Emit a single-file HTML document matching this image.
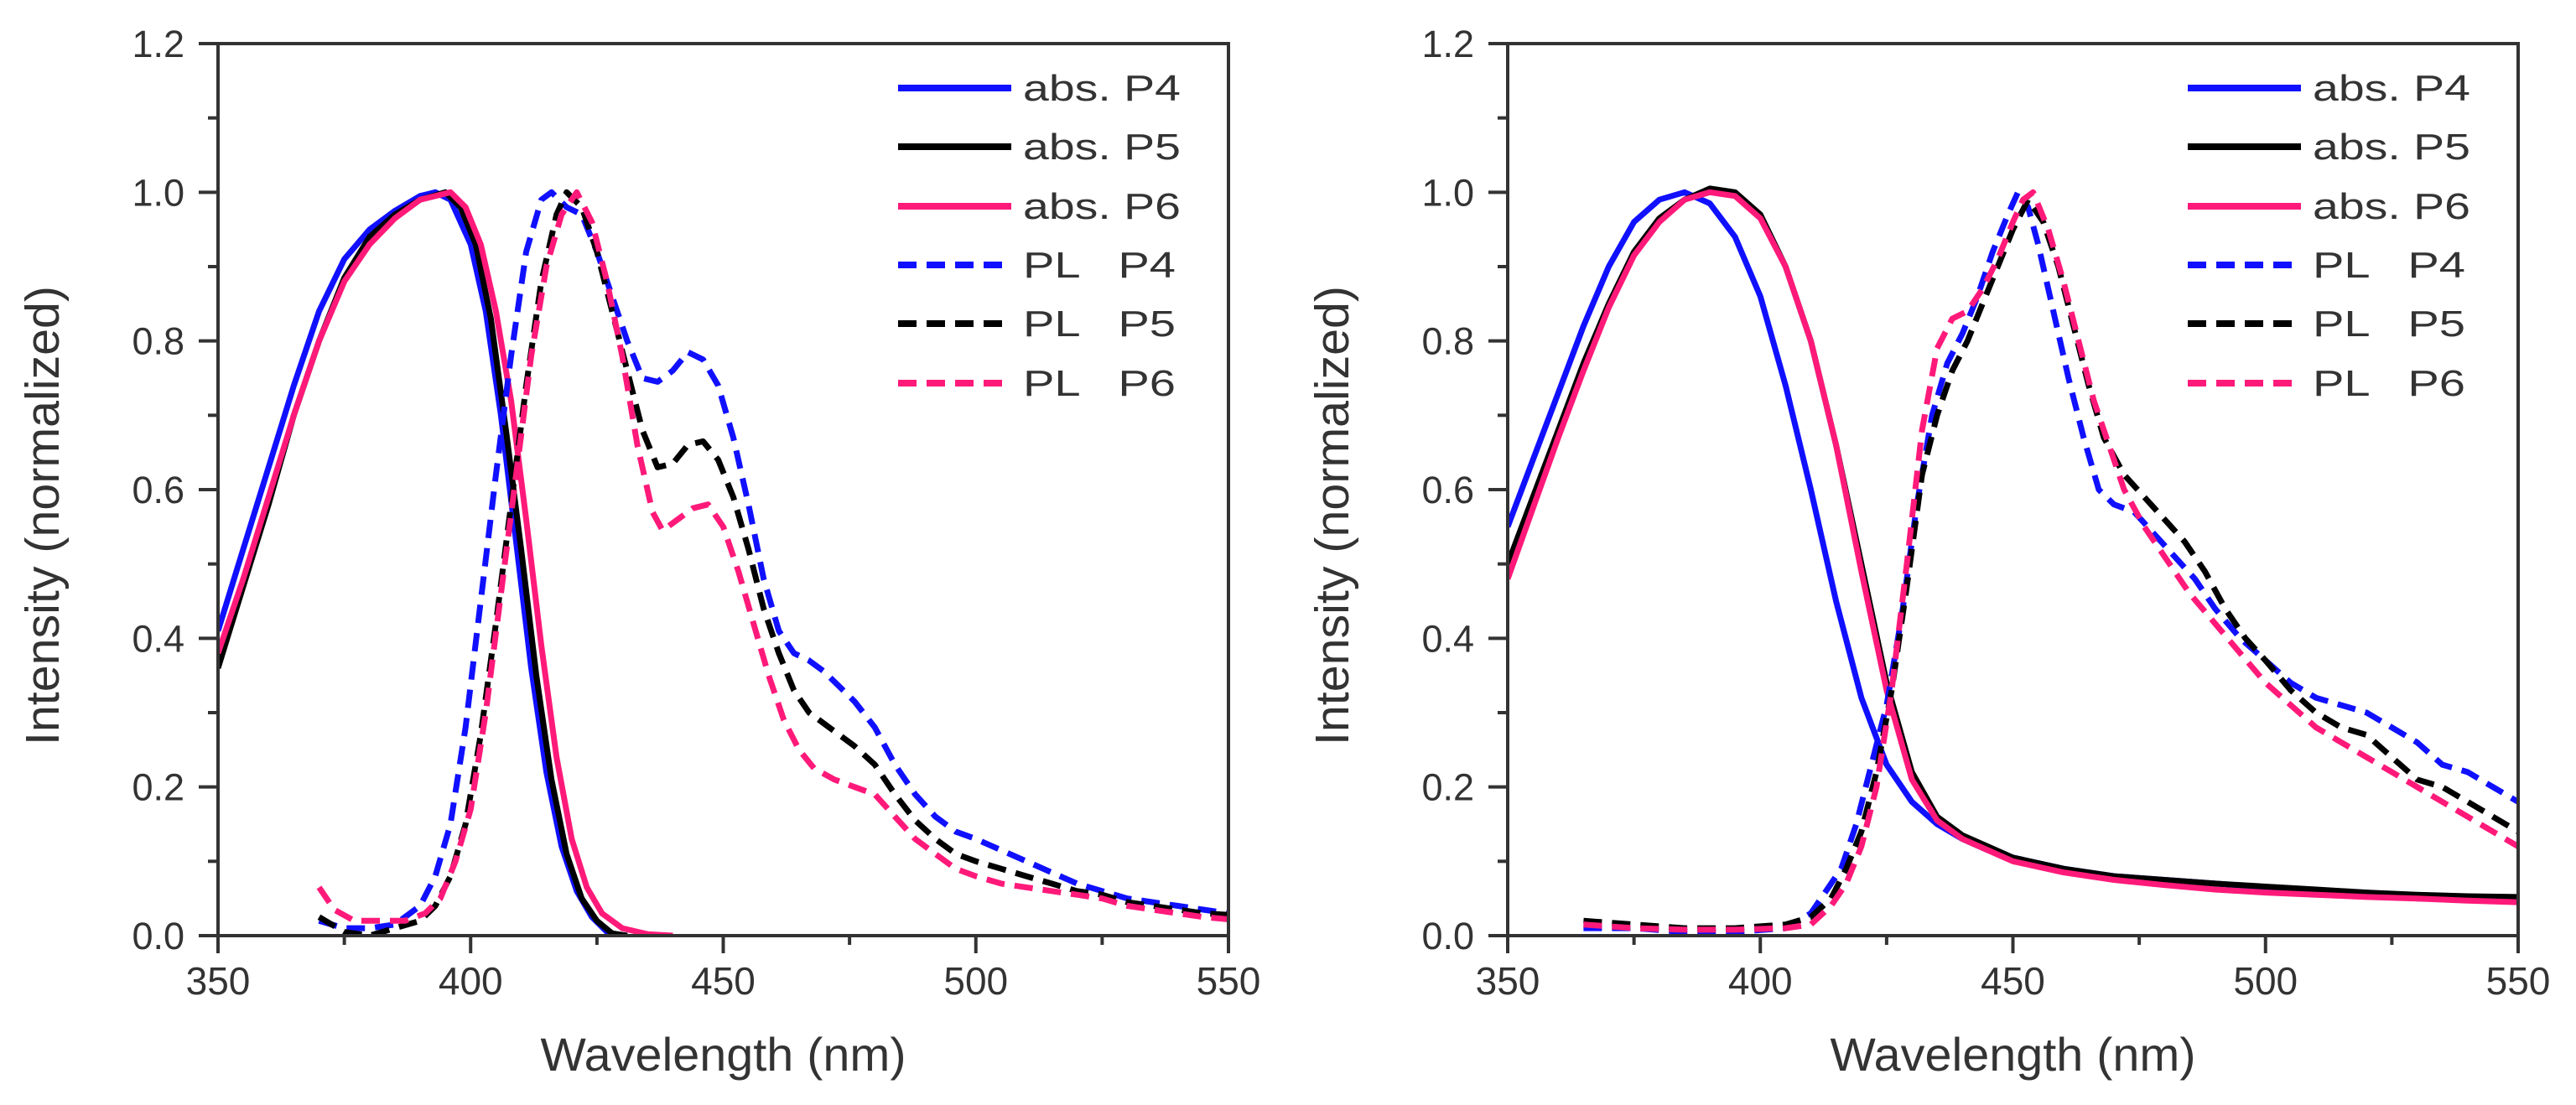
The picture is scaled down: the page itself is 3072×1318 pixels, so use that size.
<!DOCTYPE html>
<html><head><meta charset="utf-8"><style>
html,body{margin:0;padding:0;background:#fff}
svg{display:block}
text{font-family:"Liberation Sans",Arial,sans-serif;fill:#333}
</style></head><body>
<svg id="fig" width="3072" height="1318" viewBox="0 0 3072 1318" xmlns="http://www.w3.org/2000/svg"></svg>
<script>
// ---- Left panel data ----
const L_absP4_x=[350,355,360,365,370,375,380,385,390,393,396,400,403,406,409,412,415,418,421,424,427,430];
const L_absP4_y=[.41,.52,.63,.74,.84,.91,.95,.975,.995,1.0,.99,.93,.84,.7,.53,.36,.22,.12,.06,.025,.005,0];
const L_absP5_x=[350,355,360,365,370,375,380,385,390,395,398,401,404,407,410,413,416,419,422,425,428,431];
const L_absP5_y=[.36,.47,.58,.70,.80,.885,.94,.97,.99,1.0,.98,.93,.83,.68,.52,.35,.21,.11,.05,.02,.003,0];
const L_absP6_x=[350,355,360,365,370,375,380,385,390,396,399,402,405,408,411,414,417,420,423,426,430,435,440];
const L_absP6_y=[.38,.48,.59,.70,.80,.88,.93,.965,.99,1.0,.98,.93,.84,.72,.56,.39,.24,.13,.065,.03,.01,.002,0];
const L_plP4_x=[370,375,380,385,390,393,396,399,402,405,408,411,414,416,419,422,425,428,431,434,437,440,443,446,449,452,455,458,461,464,467,470,473,476,480,484,488,492,496,500,505,510,515,520,525,530,535,540,545,550];
const L_plP4_y=[.02,.01,.01,.015,.04,.08,.15,.28,.45,.62,.78,.92,.99,1.0,.98,.97,.92,.86,.8,.75,.745,.76,.785,.775,.74,.67,.58,.48,.41,.38,.37,.355,.335,.315,.28,.23,.19,.16,.14,.13,.115,.1,.085,.07,.06,.05,.045,.04,.035,.03];
const L_plP5_x=[370,375,380,385,390,393,396,399,402,405,408,411,414,417,419,422,425,428,431,434,437,440,443,446,449,452,455,458,461,464,467,470,473,476,480,484,488,492,496,500,505,510,515,520,525,530,535,540,545,550];
const L_plP5_y=[.025,.005,0,.01,.02,.04,.08,.15,.27,.42,.58,.74,.88,.97,1.0,.98,.92,.84,.76,.68,.63,.635,.66,.665,.64,.59,.52,.44,.38,.33,.3,.285,.27,.255,.23,.19,.155,.13,.11,.1,.09,.08,.07,.06,.055,.045,.04,.035,.03,.028];
const L_plP6_x=[370,373,377,382,387,391,394,397,400,403,406,409,412,415,418,421,424,427,430,433,436,438,441,444,447,450,453,456,459,462,465,468,472,476,480,484,488,492,496,500,505,510,515,520,525,530,535,540,545,550];
const L_plP6_y=[.065,.035,.02,.02,.02,.03,.05,.1,.17,.3,.46,.62,.78,.9,.97,1.0,.96,.88,.78,.66,.57,.545,.56,.575,.58,.55,.49,.42,.35,.29,.25,.225,.21,.2,.19,.16,.13,.11,.09,.08,.07,.065,.06,.055,.05,.04,.035,.03,.025,.022];
// ---- Right panel data ----
const R_absP4_x=[350,355,360,365,370,375,380,385,390,395,400,405,410,415,420,425,430,435,440,445,450,460,470,480,490,500,510,520,530,540,550];
const R_absP4_y=[.55,.64,.73,.82,.9,.96,.99,1.0,.985,.94,.86,.74,.6,.45,.32,.23,.18,.15,.13,.115,.105,.09,.08,.075,.07,.065,.06,.058,.05,.05,.05];
const R_absP5_x=[350,355,360,365,370,375,380,385,390,395,400,405,410,415,420,425,430,435,440,445,450,460,470,480,490,500,510,520,530,540,550];
const R_absP5_y=[.5,.59,.68,.77,.85,.92,.965,.99,1.005,1.0,.97,.9,.8,.66,.5,.34,.22,.16,.135,.12,.105,.09,.08,.075,.07,.066,.062,.058,.055,.053,.052];
const R_absP6_x=[350,355,360,365,370,375,380,385,390,395,400,405,410,415,420,425,430,435,440,445,450,460,470,480,490,500,510,520,530,540,550];
const R_absP6_y=[.48,.575,.67,.76,.845,.915,.96,.99,1.0,.995,.965,.9,.8,.66,.49,.33,.21,.155,.13,.115,.1,.085,.075,.068,.062,.058,.055,.052,.05,.047,.045];
const R_plP4_x=[365,375,385,395,405,410,413,416,419,422,425,428,431,434,437,440,443,446,449,451,453,455,458,461,464,467,470,474,478,482,486,490,495,500,505,510,515,520,525,530,535,540,545,550];
const R_plP4_y=[.01,.01,.005,.005,.01,.03,.06,.09,.15,.23,.31,.43,.58,.7,.77,.81,.86,.92,.97,1.0,.98,.93,.84,.75,.67,.6,.58,.57,.54,.51,.48,.44,.4,.37,.34,.32,.31,.3,.28,.26,.23,.22,.2,.18];
const R_plP5_x=[365,375,385,395,405,410,414,417,420,423,426,429,432,435,438,441,444,447,450,453,456,459,462,465,468,472,476,480,484,488,492,496,500,505,510,515,520,525,530,535,540,545,550];
const R_plP5_y=[.02,.015,.01,.01,.015,.025,.05,.09,.14,.22,.33,.47,.62,.7,.76,.8,.85,.9,.95,.99,.96,.9,.82,.74,.67,.62,.59,.56,.53,.49,.44,.4,.37,.33,.3,.28,.27,.24,.21,.2,.18,.16,.14];
const R_plP6_x=[365,375,385,395,405,410,414,417,420,423,426,429,432,435,438,441,444,447,450,452,454,457,460,463,466,469,472,476,480,485,490,495,500,505,510,515,520,525,530,535,540,545,550];
const R_plP6_y=[.015,.01,.008,.008,.01,.015,.04,.07,.12,.2,.33,.5,.68,.79,.83,.84,.87,.91,.96,.99,1.0,.95,.88,.8,.72,.66,.6,.55,.51,.46,.42,.38,.34,.31,.28,.26,.24,.22,.2,.18,.16,.14,.12];

const xTicks=[350,400,450,500,550];
const yTicks=[0.0,0.2,0.4,0.6,0.8,1.0,1.2];
const legendLabels=["abs. P4","abs. P5","abs. P6","PL   P4","PL   P5","PL   P6"];

const NS="http://www.w3.org/2000/svg";
const svg=document.getElementById('fig');
function mk(tag,attrs,parent){const e=document.createElementNS(NS,tag);for(const k in attrs)e.setAttribute(k,attrs[k]);(parent||svg).appendChild(e);return e;}

const colors=["#1010ff","#000000","#ff1a7a"];
function panel(px0,side,series){
  const px1=px0+1205, py0=1116, py1=52;
  const X=v=>px0+(v-350)/200*(px1-px0);
  const Y=v=>py0-(v/1.2)*(py0-py1);
  const g=mk('g',{});
  
  
  const clip=mk('clipPath',{id:'clip-'+side},g);
  mk('rect',{x:px0,y:py1,width:px1-px0,height:py0-py1},clip);
  const sg=mk('g',{'clip-path':'url(#clip-'+side+')'},g);
  series.forEach((s,i)=>{
    const d=s.x.map((v,j)=>(j?'L':'M')+X(v).toFixed(1)+','+Y(s.y[j]).toFixed(1)).join('');
    const p=mk('path',{d:d,fill:'none',stroke:colors[i%3],'stroke-width':7,'stroke-linejoin':'round'},sg);
    if(i>=3)p.setAttribute('stroke-dasharray','22 12');
    
    
  });
  const fr=mk('rect',{x:px0,y:py1,width:px1-px0,height:py0-py1,fill:'none',stroke:'#333','stroke-width':4},g);
  
  
  for(let v=350;v<=550;v+=25){
    const maj=(v%50===0);
    mk('line',{x1:X(v),x2:X(v),y1:py0,y2:py0+(maj?21:11),stroke:'#333','stroke-width':4},g);
  }
  xTicks.forEach(v=>{
    const t=mk('text',{x:X(v),y:1186,'font-size':46,'text-anchor':'middle'},g);
    t.textContent=String(v);
    
    
  });
  for(let k=0;k<=12;k++){
    const maj=(k%2===0);
    mk('line',{x1:px0-(maj?23:12),x2:px0,y1:Y(k/10),y2:Y(k/10),stroke:'#333','stroke-width':4},g);
  }
  yTicks.forEach(v=>{
    const t=mk('text',{x:px0-40,y:Y(v)+16,'font-size':45,'text-anchor':'end'},g);
    t.textContent=v.toFixed(1);
    
    
  });
  const xt=mk('text',{x:(px0+px1)/2,y:1277,'font-size':56,'text-anchor':'middle',textLength:436,lengthAdjust:'spacingAndGlyphs'},g);
  xt.textContent='Wavelength (nm)';
  
  
  const yx=px0-190, yy=615;
  const yt=mk('text',{x:yx,y:yy,'font-size':57,'text-anchor':'middle',textLength:548,lengthAdjust:'spacingAndGlyphs',transform:'rotate(-90 '+yx+' '+yy+')'},g);
  yt.textContent='Intensity (normalized)';
  
  
  const rows=[105,175,246,316,386,457];
  const lg=mk('g',{},g);
  
  
  legendLabels.forEach((lab,i)=>{
    const lx=px0+811;
    const ln=mk('line',{x1:lx,x2:lx+(i>=3?125:135),y1:rows[i],y2:rows[i],stroke:colors[i%3],'stroke-width':8},lg);
    if(i>=3)ln.setAttribute('stroke-dasharray','22 12');
    
    
    const t=mk('text',{x:lx+149,y:rows[i]+15,'font-size':44,fill:'#111',textLength:(i>=3?182:188),lengthAdjust:'spacingAndGlyphs'},lg);
    t.style.whiteSpace='pre';
    t.textContent=lab;
    
    
  });
}
panel(260,'left',[
  {name:'abs-p4',x:L_absP4_x,y:L_absP4_y},{name:'abs-p5',x:L_absP5_x,y:L_absP5_y},{name:'abs-p6',x:L_absP6_x,y:L_absP6_y},
  {name:'pl-p4',x:L_plP4_x,y:L_plP4_y},{name:'pl-p5',x:L_plP5_x,y:L_plP5_y},{name:'pl-p6',x:L_plP6_x,y:L_plP6_y}]);
panel(1798,'right',[
  {name:'abs-p4',x:R_absP4_x,y:R_absP4_y},{name:'abs-p5',x:R_absP5_x,y:R_absP5_y},{name:'abs-p6',x:R_absP6_x,y:R_absP6_y},
  {name:'pl-p4',x:R_plP4_x,y:R_plP4_y},{name:'pl-p5',x:R_plP5_x,y:R_plP5_y},{name:'pl-p6',x:R_plP6_x,y:R_plP6_y}]);
</script>
</body></html>
